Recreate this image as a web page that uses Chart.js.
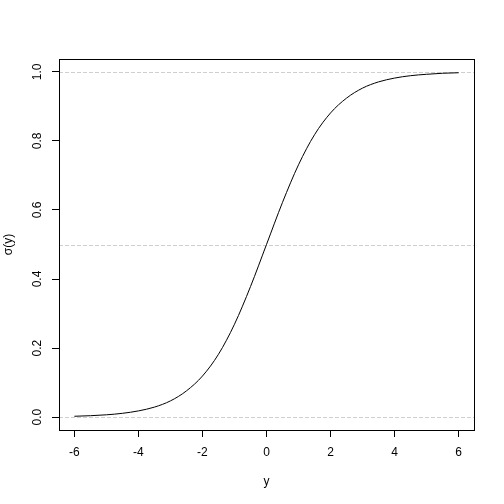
<!DOCTYPE html>
<html>
<head>
<meta charset="utf-8">
<script src="https://cdn.jsdelivr.net/npm/chart.js@4"></script>
<style>
  html, body { margin: 0; padding: 0; background: #ffffff; }
  #wrap { width: 504px; height: 504px; }
</style>
</head>
<body>
<div id="wrap"><canvas id="c" width="504" height="504"></canvas></div>
<script>
// Values
const xValues = [-6, -5.5, -5, -4.5, -4, -3.5, -3, -2.5, -2, -1.5, -1, -0.5, 0, 0.5, 1, 1.5, 2, 2.5, 3, 3.5, 4, 4.5, 5, 5.5, 6];
const yValues = [0.0025, 0.0041, 0.0067, 0.011, 0.018, 0.029, 0.047, 0.076, 0.119, 0.182, 0.269, 0.378, 0.5, 0.622, 0.731, 0.818, 0.881, 0.924, 0.953, 0.971, 0.982, 0.989, 0.993, 0.996, 0.9975];
const refLines = [0, 0.5, 1];
const xTickStep = 2;
const yTickStep = 0.2;
const xLabel = 'y';
const yLabel = 'σ(y)';

const FONT = 'Liberation Sans, Arial, Helvetica, sans-serif';

const points = xValues.map((x, i) => ({ x: x, y: yValues[i] }));

const decor = {
  id: 'decor',
  beforeDatasetsDraw(chart) {
    const ctx = chart.ctx, a = chart.chartArea, ys = chart.scales.y;
    ctx.save();
    ctx.strokeStyle = '#cfcfcf';
    ctx.lineWidth = 1;
    ctx.setLineDash([4, 2]);
    refLines.forEach(v => {
      const py = Math.round(ys.getPixelForValue(v)) + 0.5;
      ctx.beginPath();
      ctx.moveTo(a.left, py);
      ctx.lineTo(a.right, py);
      ctx.stroke();
    });
    ctx.restore();
  },
  afterDraw(chart) {
    const ctx = chart.ctx, a = chart.chartArea, ys = chart.scales.y;
    ctx.save();
    ctx.strokeStyle = '#000000';
    ctx.lineWidth = 1;
    ctx.strokeRect(Math.round(a.left) + 0.5, Math.round(a.top) + 0.5,
                   Math.round(a.right - a.left), Math.round(a.bottom - a.top));
    // rotated y tick labels
    ctx.fillStyle = '#000000';
    ctx.font = '12px ' + FONT;
    ctx.textAlign = 'center';
    ctx.textBaseline = 'middle';
    ys.ticks.forEach(t => {
      const py = ys.getPixelForValue(t.value);
      ctx.save();
      ctx.translate(38, py);
      ctx.rotate(-Math.PI / 2);
      ctx.fillText(t.value.toFixed(1), 0, 0);
      ctx.restore();
    });
    ctx.restore();
  }
};

new Chart(document.getElementById('c'), {
  type: 'line',
  data: {
    datasets: [{
      data: points,
      borderColor: '#000000',
      borderWidth: 1,
      pointRadius: 0,
      fill: false,
      cubicInterpolationMode: 'monotone'
    }]
  },
  options: {
    responsive: false,
    animation: false,
    events: [],
    layout: { padding: { top: 59, right: 30, left: 0, bottom: 0 } },
    plugins: { legend: { display: false }, tooltip: { enabled: false } },
    scales: {
      x: {
        type: 'linear',
        min: -6.48,
        max: 6.48,
        afterFit(s) { s.height = 74; },
        border: { display: false },
        grid: { drawOnChartArea: false, drawTicks: true, tickLength: 7, color: '#000000', lineWidth: 1 },
        ticks: {
          stepSize: xTickStep,
          includeBounds: false,
          autoSkip: false,
          maxRotation: 0,
          padding: 8,
          color: '#000000',
          font: { family: FONT, size: 12 },
          callback: v => String(v)
        },
        title: { display: true, text: xLabel, color: '#000000', font: { family: FONT, size: 12 }, padding: { top: 0, bottom: 15 } }
      },
      y: {
        type: 'linear',
        min: -0.0373,
        max: 1.0373,
        afterFit(s) { s.width = 59; },
        border: { display: false },
        grid: { drawOnChartArea: false, drawTicks: true, tickLength: 7, color: '#000000', lineWidth: 1 },
        ticks: {
          stepSize: yTickStep,
          includeBounds: false,
          autoSkip: false,
          display: false
        },
        title: { display: true, text: yLabel, color: '#000000', font: { family: FONT, size: 12 }, padding: { top: 1, bottom: 0 } }
      }
    }
  },
  plugins: [decor]
});
</script>
</body>
</html>
